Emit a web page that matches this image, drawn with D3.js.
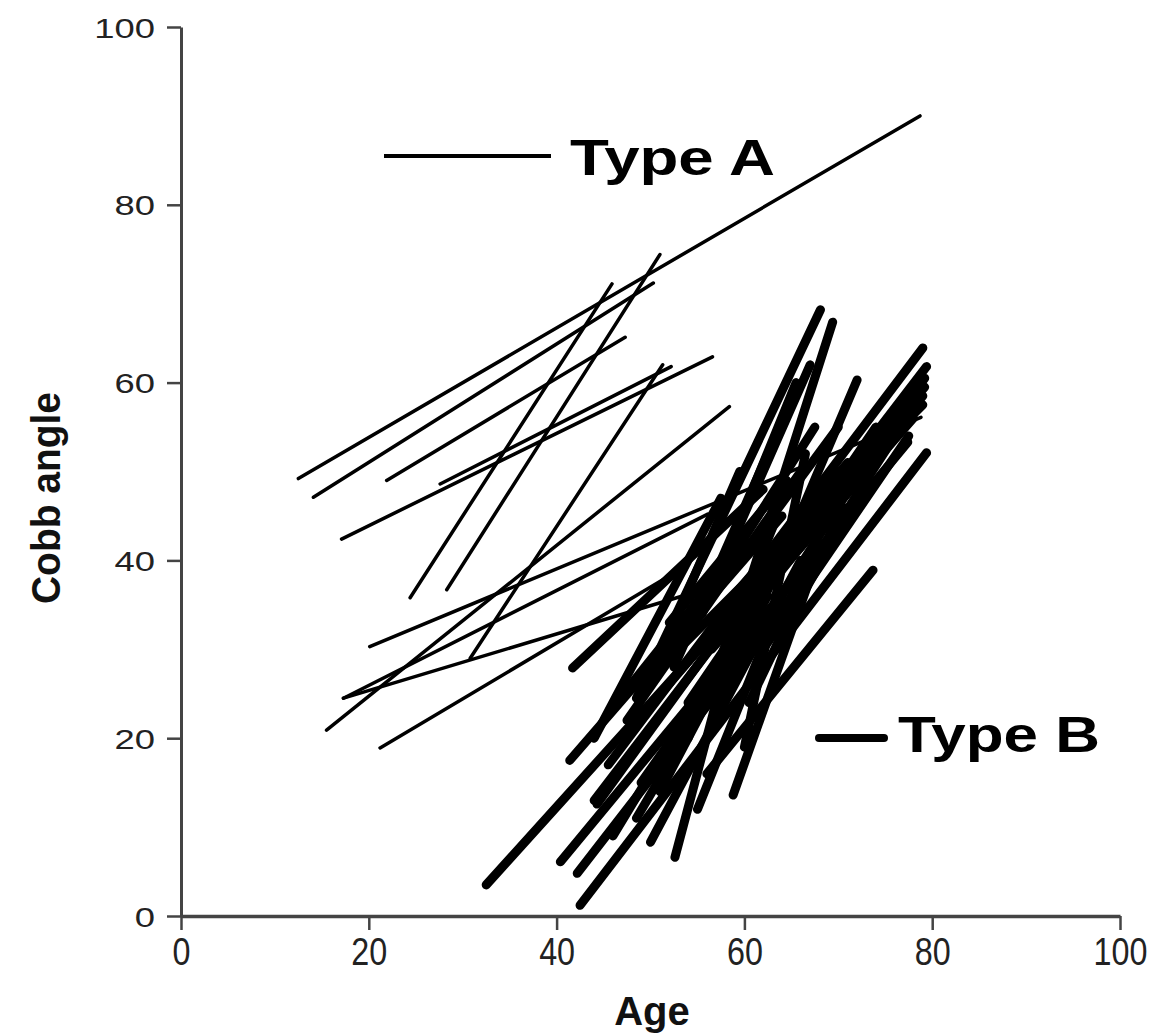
<!DOCTYPE html>
<html>
<head>
<meta charset="utf-8">
<script src="https://cdn.jsdelivr.net/npm/d3@7"></script>
<style>
  body { margin: 0; background: #fff; }
</style>
</head>
<body>
<div id="chart"></div>
<script>
// segments: [age1, cobb1, age2, cobb2]
var typeA = [
  [12.5, 49.2, 78.7, 90.0],
  [14.1, 47.1, 50.3, 71.2],
  [21.9, 49.0, 47.3, 65.1],
  [17.1, 42.4, 56.6, 62.9],
  [27.6, 48.6, 52.2, 61.8],
  [24.4, 35.8, 45.9, 71.1],
  [28.3, 36.7, 51.0, 74.4],
  [30.8, 29.0, 51.3, 62.0],
  [20.1, 30.3, 78.8, 56.1],
  [15.5, 20.9, 58.4, 57.3],
  [17.3, 24.5, 56.1, 45.2],
  [17.3, 24.5, 55.0, 36.5],
  [21.2, 18.9, 54.0, 39.5]
];

var typeB = [
  [32.5, 3.5, 62.0, 38.0],
  [40.4, 6.1, 77.4, 53.3],
  [42.2, 4.8, 68.0, 40.0],
  [42.5, 1.2, 79.4, 52.1],
  [52.6, 6.6, 60.0, 36.0],
  [58.8, 13.6, 67.0, 38.0],
  [44.3, 12.6, 70.0, 50.0],
  [41.4, 17.5, 64.0, 45.0],
  [41.7, 27.9, 62.0, 48.0],
  [56.0, 16.0, 73.7, 38.9],
  [45.5, 17.0, 79.0, 63.9],
  [44.0, 13.0, 79.4, 61.8],
  [47.0, 20.0, 79.2, 59.5],
  [57.0, 23.0, 72.0, 60.3],
  [48.5, 24.5, 68.1, 68.2],
  [57.5, 27.5, 69.4, 66.8],
  [50.0, 8.3, 66.0, 40.0],
  [47.5, 22.0, 66.0, 50.0],
  [50.0, 26.0, 67.5, 55.0],
  [53.0, 30.0, 79.0, 57.5],
  [46.0, 23.5, 60.0, 42.0],
  [54.0, 20.0, 63.5, 45.0],
  [60.0, 19.0, 66.5, 52.0],
  [49.0, 15.0, 61.0, 33.0],
  [56.5, 30.0, 78.0, 56.0],
  [61.0, 35.0, 79.0, 58.5],
  [52.0, 33.0, 64.5, 49.0],
  [58.0, 35.0, 71.0, 51.0],
  [44.0, 20.0, 57.5, 47.0],
  [48.0, 22.0, 59.5, 50.0],
  [46.0, 9.0, 58.0, 30.0],
  [48.5, 11.0, 62.5, 36.0],
  [51.0, 14.0, 64.0, 40.0],
  [55.0, 12.0, 63.0, 33.0],
  [54.0, 24.0, 74.0, 55.0],
  [59.0, 28.0, 76.0, 56.0],
  [62.0, 30.0, 77.5, 54.0],
  [63.0, 38.0, 79.2, 60.5],
  [65.0, 36.0, 78.5, 58.0],
  [55.5, 34.0, 65.5, 60.0],
  [59.5, 40.0, 70.0, 55.0],
  [52.5, 28.0, 62.5, 52.0],
  [57.0, 38.0, 67.0, 62.0],
  [60.5, 24.0, 70.5, 46.0],
  [64.0, 32.0, 72.5, 48.0]
];

var xTicks = [0, 20, 40, 60, 80, 100];
var yTicks = [0, 20, 40, 60, 80, 100];

var margin = { top: 27, right: 44, bottom: 119, left: 181 };
var width = 1164 - margin.left - margin.right;
var height = 1035 - margin.top - margin.bottom;

var axisColor = '#444';

var svg = d3.select('#chart')
  .append('svg')
  .attr('width', 1164)
  .attr('height', 1035)
  .style('font-family', '"Liberation Sans", Arial, sans-serif');

var g = svg.append('g')
  .attr('transform', 'translate(' + margin.left + ',' + margin.top + ')');

var x = d3.scaleLinear().domain([0, 100]).range([0, width]);
var y = d3.scaleLinear().domain([0, 100]).range([height, 0]);

// axes
var xAxis = g.append('g')
  .attr('transform', 'translate(0,' + height + ')')
  .call(d3.axisBottom(x).tickValues(xTicks).tickSize(14).tickSizeOuter(0));

xAxis.select('.domain').attr('stroke', axisColor).attr('stroke-width', 3.5);
xAxis.selectAll('.tick line').attr('stroke', axisColor).attr('stroke-width', 2.5);
xAxis.selectAll('.tick text')
  .attr('y', 22)
  .attr('dy', '0.71em')
  .attr('font-size', 38)
  .attr('fill', '#222')
  .attr('transform', 'scale(0.85,1)');

var yAxis = g.append('g')
  .call(d3.axisLeft(y).tickValues(yTicks).tickSize(14).tickSizeOuter(0));

yAxis.select('.domain').attr('stroke', axisColor).attr('stroke-width', 3);
yAxis.selectAll('.tick line').attr('stroke', axisColor).attr('stroke-width', 2.5);
yAxis.selectAll('.tick text')
  .attr('x', -26 / 1.3)
  .attr('dy', '0.36em')
  .attr('font-size', 28)
  .attr('fill', '#222')
  .attr('transform', 'scale(1.3,1)');

// axis titles
svg.append('text')
  .attr('x', 652)
  .attr('y', 1025)
  .attr('text-anchor', 'middle')
  .attr('font-size', 40)
  .attr('font-weight', 'bold')
  .attr('fill', '#111')
  .text('Age');

svg.append('text')
  .attr('transform', 'translate(60,498) rotate(-90)')
  .attr('text-anchor', 'middle')
  .attr('font-size', 40)
  .attr('font-weight', 'bold')
  .attr('fill', '#111')
  .attr('textLength', 212)
  .attr('lengthAdjust', 'spacingAndGlyphs')
  .text('Cobb angle');

// segments
function drawSegments(segments, strokeWidth, className) {
  g.selectAll('.' + className)
    .data(segments)
    .enter()
    .append('line')
    .attr('class', className)
    .attr('stroke', '#000')
    .attr('stroke-width', strokeWidth)
    .attr('stroke-linecap', 'round')
    .attr('x1', function(d) { return x(d[0]); })
    .attr('y1', function(d) { return y(d[1]); })
    .attr('x2', function(d) { return x(d[2]); })
    .attr('y2', function(d) { return y(d[3]); });
}

drawSegments(typeA, 3.5, 'type-a');
drawSegments(typeB, 9, 'type-b');

// legend
svg.append('line')
  .attr('x1', 384).attr('x2', 551)
  .attr('y1', 156).attr('y2', 156)
  .attr('stroke', '#000').attr('stroke-width', 4);

svg.append('text')
  .attr('x', 570)
  .attr('y', 175)
  .attr('font-size', 50)
  .attr('font-weight', 'bold')
  .attr('textLength', 205)
  .attr('lengthAdjust', 'spacingAndGlyphs')
  .text('Type A');

svg.append('line')
  .attr('x1', 819).attr('x2', 884)
  .attr('y1', 738).attr('y2', 738)
  .attr('stroke', '#000').attr('stroke-width', 8)
  .attr('stroke-linecap', 'round');

svg.append('text')
  .attr('x', 898)
  .attr('y', 752)
  .attr('font-size', 50)
  .attr('font-weight', 'bold')
  .attr('textLength', 202)
  .attr('lengthAdjust', 'spacingAndGlyphs')
  .text('Type B');
</script>
</body>
</html>
